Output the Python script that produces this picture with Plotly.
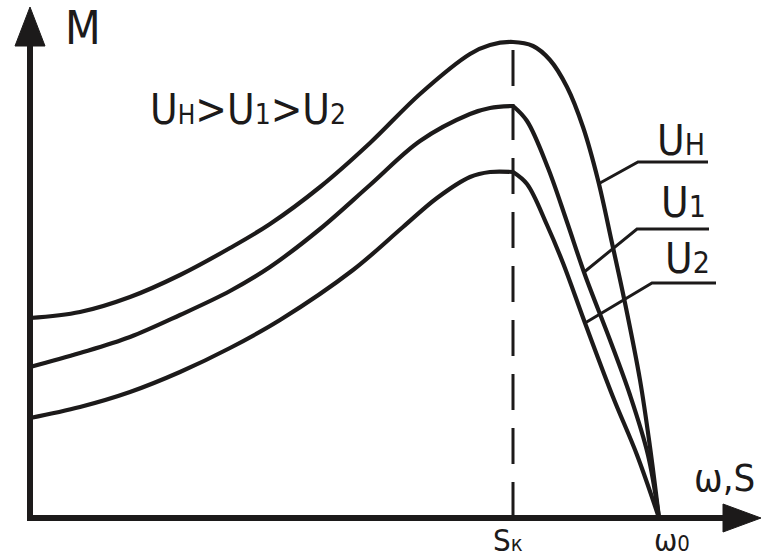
import plotly.graph_objects as go

# Torque M versus speed ω for three supply voltages (arbitrary units,
# ω0 = synchronous speed, sk = critical slip position)
speed_un = [0, 50, 100, 150, 200, 240, 290, 340, 390, 440, 460, 483,
            503, 520, 537, 553, 568, 582, 595, 610, 620, 629]
torque_un = [200, 206, 221, 243, 270, 294, 331, 375, 424, 464, 473, 476,
             472, 458, 431, 391, 338, 275, 215, 138, 71, 0]

speed_u1 = [0, 50, 100, 150, 200, 240, 290, 340, 390, 440, 460, 483,
            497, 518, 537, 555, 580, 600, 618, 629]
torque_u1 = [151, 165, 181, 203, 227, 251, 289, 333, 377, 404, 410, 412,
             397, 350, 296, 243, 178, 123, 63, 0]

speed_u2 = [0, 50, 100, 150, 200, 250, 323, 373, 407, 440, 460, 483,
            497, 517, 533, 555, 583, 607, 629]
torque_u2 = [100, 111, 126, 146, 170, 198, 248, 291, 320, 341, 346, 346,
             334, 293, 255, 195, 121, 63, 0]

s_k = 483
omega_0 = 629

# leader lines from each curve to its label
leader_un = ([570, 608, 678], [335, 356, 356])
leader_u1 = ([553, 607, 679], [245, 289, 289])
leader_u2 = ([555, 622, 686], [195, 235, 235])

INK = "#1c1a1a"
FONT = "Liberation Sans Narrow, DejaVu Sans Condensed, Liberation Sans, Arial, sans-serif"
CURVE = dict(color=INK, width=4.2, shape="spline", smoothing=1.0)

fig = go.Figure()

def add_line(xs, ys, line):
    fig.add_trace(go.Scatter(x=xs, y=ys, mode="lines", line=line,
                             hoverinfo="skip", showlegend=False))

# rated voltage: smooth maximum
add_line(speed_un, torque_un, CURVE)

# reduced voltages: the curve breaks sharply at the critical slip
for xs, ys in [(speed_u1, torque_u1), (speed_u2, torque_u2)]:
    left = [(x, y) for x, y in zip(xs, ys) if x <= s_k]
    right = [(x, y) for x, y in zip(xs, ys) if x >= s_k]
    for part in (left, right):
        add_line([p[0] for p in part], [p[1] for p in part], CURVE)

for xs, ys in [leader_un, leader_u1, leader_u2]:
    add_line(xs, ys, dict(color=INK, width=3))

# critical slip marker
add_line([s_k, s_k], [0, max(torque_un)], dict(color=INK, width=3, dash="36px,18px"))

# coordinate axes with arrow heads
shapes = [
    dict(type="line", x0=0, y0=0, x1=0, y1=476, line=dict(color=INK, width=6)),
    dict(type="line", x0=-3, y0=0, x1=696, y1=0, line=dict(color=INK, width=6)),
    dict(type="path", path="M -15,472 L 0,511 L 15,472 Z",
         fillcolor=INK, line=dict(color=INK, width=1)),
    dict(type="path", path="M 693,-14 L 731,0 L 693,14 Z",
         fillcolor=INK, line=dict(color=INK, width=1)),
]

def sub(t, size):
    return f'<span style="font-size:{size}px">{t}</span>'

annotations = [
    dict(x=53, y=490, text="M", font=dict(size=46)),
    dict(x=218, y=409, text="U" + sub("Н", 26) + ">U" + sub("1", 28) + ">U" + sub("2", 28),
         font=dict(size=42)),
    dict(x=625, y=378, text="U" + sub("Н", 30), font=dict(size=42), xanchor="left"),
    dict(x=629, y=316, text="U" + sub("1", 30), font=dict(size=42), xanchor="left"),
    dict(x=633, y=260, text="U" + sub("2", 30), font=dict(size=42), xanchor="left"),
    dict(x=694, y=40, text="ω,S", font=dict(size=38)),
    dict(x=478, y=-22, text="S" + sub("к", 22), font=dict(size=31)),
    dict(x=642, y=-22, text="ω" + sub("0", 22), font=dict(size=31)),
]
for a in annotations:
    a.setdefault("xanchor", "center")
    a.update(xref="x", yref="y", yanchor="middle", showarrow=False)
    a["font"].update(family=FONT, color=INK)

fig.update_layout(
    width=767, height=557, autosize=False,
    margin=dict(l=0, r=0, t=0, b=0),
    paper_bgcolor="white", plot_bgcolor="white",
    xaxis=dict(range=[-30, 737], visible=False, fixedrange=True),
    yaxis=dict(range=[-39, 518], visible=False, fixedrange=True),
    shapes=shapes, annotations=annotations,
)

fig.write_html("out.html")
